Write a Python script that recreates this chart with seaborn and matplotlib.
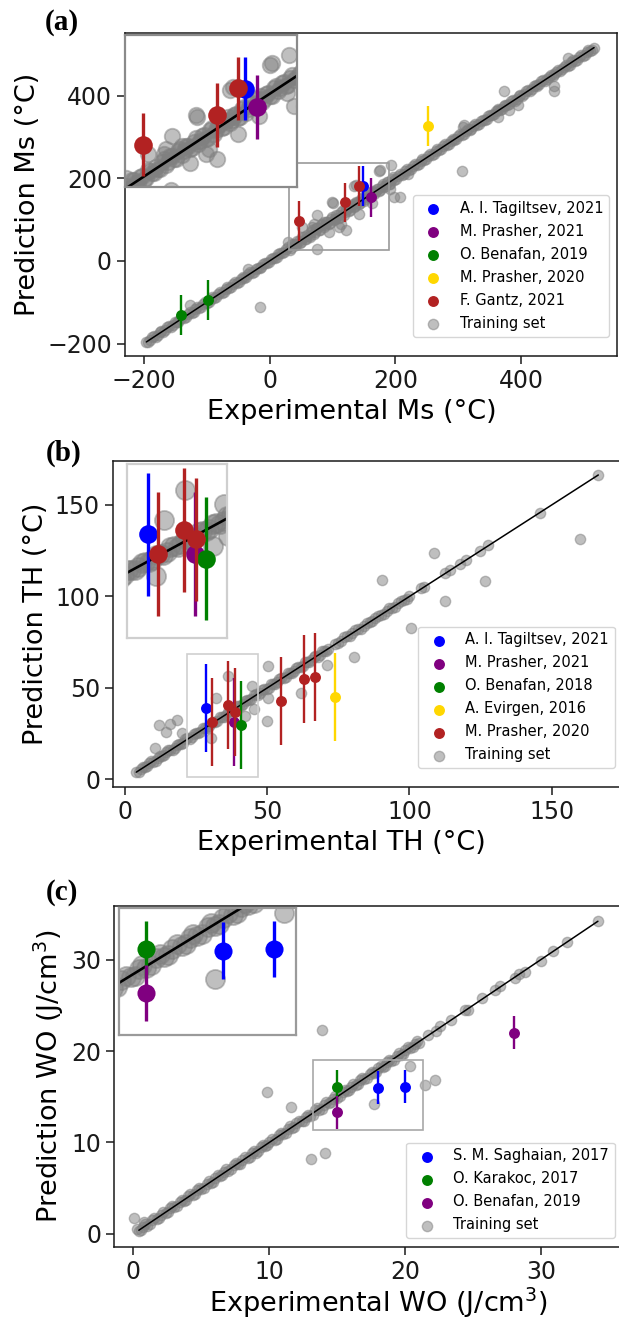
import numpy as np
import matplotlib
matplotlib.use("Agg")
import matplotlib.pyplot as plt
import seaborn as sns
from matplotlib.patches import Rectangle

# ---------------- (a) Martensite start temperature Ms (°C) ----------------
ms_band_exp = [-196, -190, -184, -178, -172, -166, -160, -154, -148, -142, -136, -130, -124, -118,
               -112, -106, -100, -94, -88, -82, -76, -70, -64, -58, -52, -46, -40, -34, -28, -22,
               -16, -10, -4, 2, 8, 14, 20, 26,
               30, 34, 38, 42, 46, 50, 54, 58, 62, 66, 70, 74, 78, 82, 86, 90, 94, 98, 102, 106,
               110, 114, 118, 122, 126, 130, 134, 138, 142, 146, 150, 154, 158, 162, 166, 170,
               174, 178, 182, 186, 190, 194, 198,
               204, 210, 216, 222, 228, 234, 240, 246, 252, 258, 264, 270, 276, 282, 288, 294,
               300, 306, 312, 318, 324, 330, 336, 342, 348, 354, 360, 366, 372, 378, 384, 390,
               396, 402, 408, 414, 420, 426, 432, 438, 444, 450, 456, 462, 468, 474, 480, 486,
               492, 498, 504, 510, 516]
ms_band_pred = [-195, -191, -182, -179, -170, -167, -158, -155, -147, -140, -137, -128, -125, -116,
                -113, -104, -101, -92, -89, -80, -77, -68, -66, -57, -53, -44, -41, -32, -29, -20,
                -17, -8, -5, 4, 7, 16, 19, 28,
                34, 31, 42, 38, 49, 46, 57, 53, 60, 70, 66, 79, 74, 86, 81, 94, 89, 101, 98, 110,
                105, 118, 112, 126, 121, 133, 130, 142, 137, 150, 145, 158, 154, 166, 161, 174,
                170, 182, 178, 190, 186, 198, 195,
                206, 208, 218, 220, 230, 232, 242, 244, 253, 257, 266, 268, 278, 280, 290, 292,
                302, 304, 314, 316, 326, 328, 338, 340, 350, 352, 362, 364, 374, 376, 386, 388,
                398, 400, 410, 412, 422, 424, 434, 436, 446, 448, 458, 460, 470, 472, 482, 484,
                494, 496, 506, 508, 516]
ms_band2_exp = [-193, -187, -181, -175, -169, -163, -157, -151, -145, -139, -133, -127, -121, -115,
                -109, -103, -97, -91, -85, -79, -73, -67, -61, -55, -49, -43, -37, -31, -25, -19,
                -13, -7, -1, 5, 11, 17, 23,
                32, 36, 40, 44, 48, 52, 56, 60, 64, 68, 72, 76, 80, 84, 88, 92, 96, 100, 104, 108,
                112, 116, 120, 124, 128, 132, 136, 140, 144, 148, 152, 156, 160, 164, 168, 172,
                176, 180, 184, 188, 192, 196,
                201, 207, 213, 219, 225, 231, 237, 243, 249, 255, 261, 267, 273, 279, 285, 291,
                297, 303, 309, 315, 321, 327, 333, 339, 345, 351, 357, 363, 369, 375, 381, 387,
                393, 399, 405, 411, 417, 423, 429, 435, 441, 447, 453, 459, 465, 471, 477, 483,
                489, 495, 501, 507, 513]
ms_band2_pred = [-195, -184, -183, -172, -171, -160, -159, -148, -147, -136, -135, -124, -123, -112,
                 -111, -100, -99, -88, -87, -76, -75, -64, -63, -52, -51, -40, -39, -28, -27, -16,
                 -15, -4, -3, 8, 9, 20, 21,
                 27, 42, 38, 47, 43, 58, 54, 63, 59, 74, 70, 79, 75, 90, 86, 95, 91, 106, 102, 111,
                 107, 122, 118, 127, 123, 138, 134, 143, 139, 154, 150, 159, 155, 170, 166, 175,
                 171, 186, 182, 191, 187, 202,
                 199, 210, 211, 222, 223, 234, 235, 246, 247, 258, 259, 270, 271, 282, 283, 294,
                 295, 306, 307, 318, 319, 330, 331, 342, 343, 354, 355, 366, 367, 378, 379, 390,
                 391, 402, 403, 414, 415, 426, 427, 438, 439, 450, 451, 462, 463, 474, 475, 486,
                 487, 498, 499, 510, 511]
ms_off_exp = [475, 453, 453, 372, 363, 363, 381, 395, 306, 307, 309, -127, -16, -34, 30, 75, 76,
              101, 121, 94, 110, 142, 68, 174, 176, 198, 208, 137, 52, 70, 86, 113, 220, 100,
              134, 137, 193, 191, 163]
ms_off_pred = [491, 424, 411, 411, 368, 348, 366, 376, 217, 324, 328, -107, -111, -20, 46, 28, 110,
               139, 74, 69, 82, 113, 82, 217, 221, 155, 155, 139, 82, 90, 94, 90, 211, 142,
               180, 184, 233, 175, 140]

ms_sources = ["A. I. Tagiltsev, 2021", "M. Prasher, 2021", "O. Benafan, 2019",
              "M. Prasher, 2020", "F. Gantz, 2021"]
ms_colors = ["blue", "purple", "green", "gold", "firebrick"]
ms_tagiltsev_exp, ms_tagiltsev_pred = [149], [181.5]
ms_prasher21_exp, ms_prasher21_pred = [161], [153.5]
ms_benafan_exp, ms_benafan_pred = [-140.5, -98.3], [-131, -94.5]
ms_prasher20_exp, ms_prasher20_pred = [251.7], [327]
ms_gantz_exp, ms_gantz_pred = [46.6, 120.5, 142.4], [96, 141.5, 182]
ms_err = 48

# ---------------- (b) Thermal hysteresis TH (°C) ----------------
th_band_exp = [4, 5.5, 7, 8.5, 10, 11.5, 13, 14.5, 16, 17.5, 19, 20.5, 22, 23.5, 25, 26.5, 28,
               29.5, 31, 32.5, 34, 35.5, 37, 38.5, 40, 41.5, 43, 44.5, 46, 47.5, 49, 50.5, 52,
               53.5, 55, 56.5, 58, 59.5, 61, 62.5, 64, 65.5, 67, 68.5, 70, 71.5,
               74, 76, 78, 80, 82, 84, 86, 88, 90, 92, 94, 96, 98, 100,
               104, 105, 112.5, 114.3, 117.8, 119.8, 124.8, 127.7, 145.9, 166.4]
th_band_pred = [4.2, 5.9, 6.6, 8.9, 9.7, 11.9, 12.6, 14.8, 16.3, 17.2, 19.4, 20.1, 22.5, 23.1, 25.4,
                26.2, 28.3, 29.1, 31.4, 32.1, 34.4, 35.2, 37.3, 38.2, 40.4, 41.1, 43.3, 44.2, 46.5,
                47.1, 49.3, 50.2, 52.4, 53.1, 55.3, 56.2, 58.4, 59.1, 61.3, 62.2, 64.4, 65.1, 67.3,
                68.2, 70.4, 71.1,
                74.3, 75.8, 78.2, 79.9, 82.3, 83.7, 86.2, 88.1, 89.8, 92.3, 93.8, 96.2, 97.9, 100.3,
                104.5, 105.4, 112.7, 114.5, 117.8, 120.0, 124.9, 128.0, 145.7, 166.3]
th_band2_exp = [4.8, 6.3, 7.8, 9.3, 10.8, 12.3, 13.8, 15.3, 16.8, 18.3, 19.8, 21.3, 22.8, 24.3,
                25.8, 27.3, 28.8, 30.3, 31.8, 33.3, 34.8, 36.3, 37.8, 39.3, 40.8, 42.3, 43.8, 45.3,
                46.8, 48.3, 49.8, 51.3, 52.8, 54.3, 55.8, 57.3, 58.8, 60.3, 61.8, 63.3, 64.8, 66.3,
                67.8, 69.3, 70.8,
                75, 77, 79, 81, 83, 85, 87, 89, 91, 93, 95, 97, 99]
th_band2_pred = [4.2, 7.1, 7.2, 10.1, 10.2, 13.1, 13.2, 16.1, 16.2, 19.1, 19.2, 22.1, 22.2, 25.1,
                 25.2, 28.1, 28.2, 31.1, 31.2, 34.1, 34.2, 37.1, 37.2, 40.1, 40.2, 43.1, 43.2, 46.1,
                 46.2, 49.1, 49.2, 52.1, 52.2, 55.1, 55.2, 58.1, 58.2, 61.1, 61.2, 64.1, 64.2, 67.1,
                 67.2, 70.1, 70.2,
                 74.5, 77.6, 78.5, 81.6, 82.5, 85.6, 86.5, 89.6, 90.5, 93.6, 94.5, 97.6, 98.5]
th_off_exp = [160, 108.8, 126.6, 112.5, 100.6, 90.5, 80.7, 71.1, 62, 50.2, 50.3, 50, 45.5, 44.7,
              31.9, 12.1, 15.9, 18.2, 14.6, 20.1, 10.7, 30.2, 42.3, 36.4]
th_off_pred = [131.4, 123.6, 108.7, 97.8, 82.7, 109, 66.9, 62.7, 47.3, 61.8, 44.5, 31.8, 38.5, 50.9,
               44.5, 29.6, 30.5, 32.7, 26, 25.4, 17.3, 22.7, 34.5, 56.3]

th_sources = ["A. I. Tagiltsev, 2021", "M. Prasher, 2021", "O. Benafan, 2018",
              "A. Evirgen, 2016", "M. Prasher, 2020"]
th_colors = ["blue", "purple", "green", "gold", "firebrick"]
th_tagiltsev_exp, th_tagiltsev_pred = [28.6], [39.1]
th_prasher21_exp, th_prasher21_pred = [38.5], [31.5]
th_benafan_exp, th_benafan_pred = [40.8], [29.6]
th_evirgen_exp, th_evirgen_pred = [73.9], [44.9]
th_prasher20_exp = [30.7, 36.2, 38.8, 55.0, 62.8, 66.8]
th_prasher20_pred = [31.5, 40.7, 37.1, 42.7, 55.1, 56.2]
th_err = 24

# ---------------- (c) Work output WO (J/cm3) ----------------
wo_band_exp = [0.4, 0.7, 1.0, 1.4, 1.7, 2.0, 2.4, 2.7, 3.0, 3.4, 3.7, 4.0, 4.4, 4.7, 5.0, 5.4, 5.7,
               6.0, 6.4, 6.7, 7.0, 7.4, 7.7, 8.0, 8.4, 8.7, 9.0, 9.4, 9.7, 10.0, 10.4, 10.7, 11.0,
               11.4, 11.7, 12.0, 12.4, 12.7, 13.0, 13.4, 13.7, 14.0, 14.4, 14.7, 15.0, 15.4, 15.7,
               16.0, 16.4, 16.7, 17.0, 17.4, 17.7, 18.0, 18.4, 18.7, 19.0, 19.4, 19.7, 20.0, 20.4,
               20.7, 21.0,
               21.7, 22.3, 22.6, 23.4, 24.4, 24.6, 25.7, 26.6, 27.0, 28.1, 28.4, 28.8, 30.0, 30.9,
               31.9, 34.2]
wo_band_pred = [0.3, 0.8, 0.9, 1.5, 1.6, 2.1, 2.3, 2.8, 2.9, 3.5, 3.6, 4.1, 4.3, 4.8, 4.9, 5.5, 5.6,
                6.1, 6.3, 6.8, 6.9, 7.5, 7.6, 8.1, 8.3, 8.8, 8.9, 9.5, 9.6, 10.1, 10.3, 10.8, 10.9,
                11.5, 11.6, 12.1, 12.3, 12.8, 12.9, 13.5, 13.6, 14.1, 14.3, 14.8, 14.9, 15.5, 15.6,
                16.1, 16.3, 16.8, 16.9, 17.5, 17.6, 18.1, 18.3, 18.8, 18.9, 19.5, 19.6, 20.1, 20.3,
                20.8, 20.9,
                21.8, 22.2, 22.7, 23.4, 24.5, 24.5, 25.8, 26.7, 27.1, 28.0, 28.4, 28.7, 29.9, 30.9,
                31.9, 34.2]
wo_band2_exp = [0.55, 0.85, 1.2, 1.55, 1.85, 2.2, 2.55, 2.85, 3.2, 3.55, 3.85, 4.2, 4.55, 4.85, 5.2,
                5.55, 5.85, 6.2, 6.55, 6.85, 7.2, 7.55, 7.85, 8.2, 8.55, 8.85, 9.2, 9.55, 9.85, 10.2,
                10.55, 10.85, 11.2, 11.55, 11.85, 12.2, 12.55, 12.85, 13.2, 13.55, 13.85, 14.2,
                14.55, 14.85, 15.2, 15.55, 15.85, 16.2, 16.55, 16.85, 17.2, 17.55, 17.85, 18.2,
                18.55, 18.85, 19.2, 19.55, 19.85, 20.2, 20.55, 20.85]
wo_band2_pred = [0.4, 1.05, 1.05, 1.75, 1.7, 2.4, 2.4, 3.05, 3.05, 3.75, 3.7, 4.4, 4.4, 5.05, 5.05,
                 5.75, 5.7, 6.4, 6.4, 7.05, 7.05, 7.75, 7.7, 8.4, 8.4, 9.05, 9.05, 9.75, 9.7, 10.4,
                 10.4, 11.05, 11.05, 11.75, 11.7, 12.4, 12.4, 13.05, 13.05, 13.75, 13.7, 14.4,
                 14.4, 15.05, 15.05, 15.75, 15.7, 16.4, 16.4, 17.05, 17.05, 17.75, 17.7, 18.4,
                 18.4, 19.05, 19.05, 19.75, 19.7, 20.4, 20.4, 21.05]
wo_off_exp = [13.9, 9.85, 11.6, 13.06, 14.1, 17.7, 20.4, 21.5, 22.2, 0.06, 0.8, 0.3]
wo_off_pred = [22.3, 15.5, 13.9, 8.2, 8.8, 14.2, 18.4, 16.3, 16.8, 1.7, 1.35, 0.5]

wo_sources = ["S. M. Saghaian, 2017", "O. Karakoc, 2017", "O. Benafan, 2019"]
wo_colors = ["blue", "green", "purple"]
wo_saghaian_exp, wo_saghaian_pred = [18.0, 20.0], [16.0, 16.1]
wo_karakoc_exp, wo_karakoc_pred = [15.0], [16.1]
wo_benafan_exp, wo_benafan_pred = [15.0, 28.0], [13.3, 22.0]
wo_err = 1.8

# ---------------- style ----------------
sns.set_style("ticks", {"axes.edgecolor": "0.1", "xtick.color": "0.1", "ytick.color": "0.1",
                        "text.color": "black", "axes.labelcolor": "black"})
plt.rcParams["font.family"] = ["DejaVu Sans"]
plt.rcParams["mathtext.default"] = "regular"
plt.rcParams["axes.linewidth"] = 1.1
plt.rcParams["xtick.major.size"] = 6
plt.rcParams["ytick.major.size"] = 6
plt.rcParams["xtick.major.width"] = 1.1
plt.rcParams["ytick.major.width"] = 1.1
plt.rcParams["xtick.labelsize"] = 17
plt.rcParams["ytick.labelsize"] = 17
plt.rcParams["axes.labelsize"] = 19.5

W, H = 619, 1320
fig = plt.figure(figsize=(W / 100, H / 100), dpi=100)


def box(left, top, right, bottom):
    """Pixel box -> figure-fraction rectangle."""
    return [left / W, 1 - bottom / H, (right - left) / W, (bottom - top) / H]


panels = [
    dict(ax=box(125, 32.7, 616.7, 356), inset=box(125, 35, 297, 187),
         band=(ms_band_exp + ms_band2_exp, ms_band_pred + ms_band2_pred),
         off=(ms_off_exp, ms_off_pred),
         groups=[(ms_sources[0], ms_colors[0], ms_tagiltsev_exp, ms_tagiltsev_pred),
                 (ms_sources[1], ms_colors[1], ms_prasher21_exp, ms_prasher21_pred),
                 (ms_sources[2], ms_colors[2], ms_benafan_exp, ms_benafan_pred),
                 (ms_sources[3], ms_colors[3], ms_prasher20_exp, ms_prasher20_pred),
                 (ms_sources[4], ms_colors[4], ms_gantz_exp, ms_gantz_pred)],
         err=ms_err, lims=(-230, 552), in_x=(29, 201), in_y=(32, 263),
         rect=(31, 26, 190, 238), frame="#8a8a8a", rect_c="#9a9a9a",
         xlabel="Experimental Ms (°C)", ylabel="Prediction Ms (°C)", xlab_x=0.461, xpad=4,
         leg=(0.9843, 0.0588), letter="(a)", letter_xy=(62, 22),
         in_s=125, in_ms=180),
    dict(ax=box(113.2, 460.7, 620.5, 787), inset=box(127.3, 464.3, 227.3, 637.7),
         band=(th_band_exp + th_band2_exp, th_band_pred + th_band2_pred),
         off=(th_off_exp, th_off_pred),
         groups=[(th_sources[0], th_colors[0], th_tagiltsev_exp, th_tagiltsev_pred),
                 (th_sources[1], th_colors[1], th_prasher21_exp, th_prasher21_pred),
                 (th_sources[2], th_colors[2], th_benafan_exp, th_benafan_pred),
                 (th_sources[3], th_colors[3], th_evirgen_exp, th_evirgen_pred),
                 (th_sources[4], th_colors[4], th_prasher20_exp, th_prasher20_pred)],
         err=th_err, lims=(-4.1, 174.2), in_x=(24.2, 45.3), in_y=(-1.1, 66.3),
         rect=(21.7, 1.5, 46.7, 68.7), frame="#cfcfcf", rect_c="#cfcfcf",
         xlabel="Experimental TH (°C)", ylabel="Prediction TH (°C)", xlab_x=0.449, xpad=4,
         leg=(0.9884, 0.0573), letter="(b)", letter_xy=(64, 453),
         in_s=190, in_ms=180),
    dict(ax=box(114.4, 905.7, 621, 1246.7), inset=box(119.4, 908.3, 295.7, 1035),
         band=(wo_band_exp + wo_band2_exp, wo_band_pred + wo_band2_pred),
         off=(wo_off_exp, wo_off_pred),
         groups=[(wo_sources[0], wo_colors[0], wo_saghaian_exp, wo_saghaian_pred),
                 (wo_sources[1], wo_colors[1], wo_karakoc_exp, wo_karakoc_pred),
                 (wo_sources[2], wo_colors[2], wo_benafan_exp, wo_benafan_pred)],
         err=wo_err, lims=(-1.4, 35.9), in_x=(13.95, 20.85), in_y=(10.6, 18.7),
         rect=(13.2, 11.4, 21.3, 19.0), frame="#9a9a9a", rect_c="#a8a8a8",
         xlabel=r"Experimental WO $(J/cm^3)$", ylabel=r"Prediction WO $(J/cm^3)$",
         xlab_x=0.521, xpad=1,
         leg=(0.9874, 0.0246), letter="(c)", letter_xy=(62, 893),
         in_s=190, in_ms=170),
]

for p in panels:
    ax = fig.add_axes(p["ax"])
    tr_x = np.concatenate([p["band"][0], p["off"][0]])
    tr_y = np.concatenate([p["band"][1], p["off"][1]])
    lo, hi = min(p["band"][0]), max(p["band"][0])

    # experimental sources: error bar + marker for each group
    for label, color, xs, ys in p["groups"]:
        ax.errorbar(xs, ys, yerr=p["err"], fmt="none", ecolor=color, elinewidth=1.7, zorder=4)
        sns.scatterplot(x=xs, y=ys, color=color, s=62, linewidth=0, label=label,
                        zorder=4, ax=ax, legend=False)
    # training set and parity line
    sns.scatterplot(x=tr_x, y=tr_y, color="gray", alpha=0.5, s=55, edgecolor="gray",
                    linewidth=1, label="Training set", zorder=1, ax=ax, legend=False)
    ax.plot([lo, hi], [lo, hi], color="black", lw=1.1, zorder=2)

    x0, y0, x1, y1 = p["rect"]
    ax.add_patch(Rectangle((x0, y0), x1 - x0, y1 - y0, fill=False, edgecolor=p["rect_c"],
                           lw=1.2, zorder=5))
    ax.set_xlim(*p["lims"])
    ax.set_ylim(*p["lims"])
    ax.set_xlabel(p["xlabel"], labelpad=p["xpad"])
    ax.set_ylabel(p["ylabel"])
    ax.xaxis.label.set_x(p["xlab_x"])
    ax.legend(loc="lower right", bbox_to_anchor=p["leg"], borderaxespad=0, fontsize=10.5,
              labelspacing=0.55, handletextpad=0.8, borderpad=0.4, frameon=True,
              edgecolor="0.8", framealpha=0.8, fancybox=True)

    # zoomed view
    axi = fig.add_axes(p["inset"])
    axi.set_facecolor("white")
    sns.scatterplot(x=tr_x, y=tr_y, color="gray", alpha=0.5, s=p["in_s"], edgecolor="gray",
                    linewidth=1.3, zorder=1, ax=axi, legend=False)
    axi.axline((0, 0), slope=1, color="black", lw=1.9, zorder=2)
    for label, color, xs, ys in p["groups"]:
        axi.errorbar(xs, ys, yerr=p["err"], fmt="none", ecolor=color, elinewidth=2.4, zorder=4)
        sns.scatterplot(x=xs, y=ys, color=color, s=p["in_ms"], linewidth=0, zorder=4,
                        ax=axi, legend=False)
    axi.set_xlim(*p["in_x"])
    axi.set_ylim(*p["in_y"])
    axi.set_xticks([])
    axi.set_yticks([])
    axi.set_xlabel("")
    axi.set_ylabel("")
    for sp in axi.spines.values():
        sp.set_edgecolor(p["frame"])
        sp.set_linewidth(1.6)

    fig.text(p["letter_xy"][0] / W, 1 - p["letter_xy"][1] / H, p["letter"],
             family="Liberation Serif", fontweight="bold", fontsize=21,
             ha="center", va="center")

fig.savefig("out.png", dpi=100)
